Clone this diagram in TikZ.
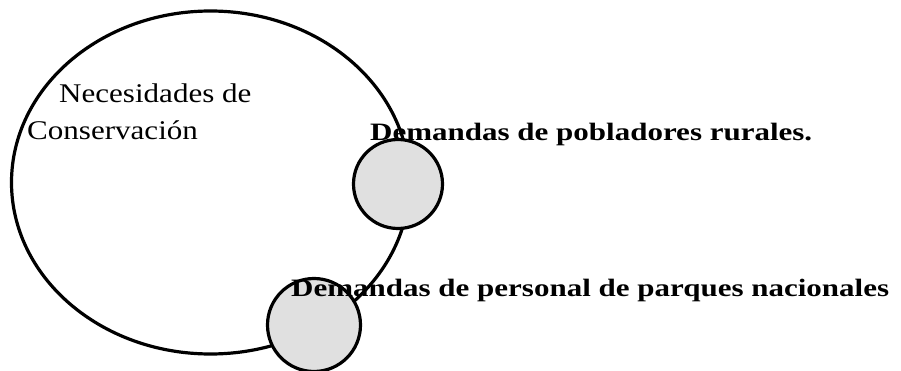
\documentclass[tikz,border=0pt]{standalone}
\usepackage{fontspec}
\setmainfont{Liberation Serif}
\usetikzlibrary{shapes.geometric}
\begin{document}
\begin{tikzpicture}[x=1pt,y=-1pt,
  outline/.style={draw=black,line width=3.2pt},
  bigset/.style={outline,ellipse,inner sep=0pt,minimum width=398pt,minimum height=343pt},
  demand/.style={outline,circle,inner sep=0pt,minimum size=#1,fill=gray!24},
  plainlbl/.style={anchor=base west,inner sep=0pt,font=\fontsize{27}{30}\selectfont},
  boldlbl/.style={anchor=base west,inner sep=0pt,font=\fontsize{25}{28}\selectfont\bfseries}]
\useasboundingbox (0,0) rectangle (901,371);
\node[bigset] (cons) at (210.5,182.5) {};
\node[demand=89pt] (rural) at (398,184) {};
\node[demand=93pt] (parks) at (314,325) {};
\node[plainlbl] (nec1) at (59,103) {\scalebox{1.15}[1]{Necesidades de}};
\node[plainlbl] (nec2) at (27,140) {\scalebox{1.15}[1]{Conservación}};
\node[boldlbl] (dem1) at (370,141) {\scalebox{1.24}[1]{Demandas de pobladores rurales.}};
\node[boldlbl] (dem2) at (291,296) {\scalebox{1.24}[1]{Demandas de personal de parques nacionales}};
\end{tikzpicture}
\end{document}
